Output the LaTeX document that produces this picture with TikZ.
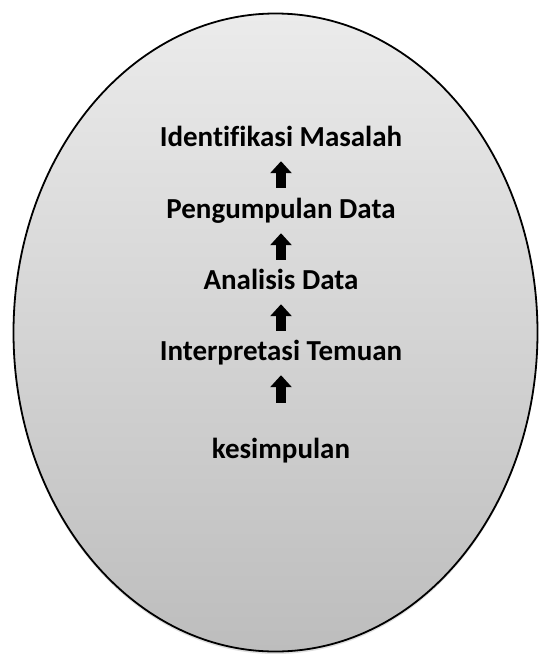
\documentclass[tikz,border=0pt]{standalone}
\usepackage{fontspec}
\setmainfont{Carlito}[Ligatures=NoCommon]
\usetikzlibrary{arrows.meta,shadows}
\definecolor{topgray}{HTML}{EBEBEB}
\definecolor{botgray}{HTML}{BDBDBD}
\begin{document}
\begin{tikzpicture}[x=1pt,y=-1pt,
  lbl/.style={inner sep=0pt,text height=18pt,text depth=0pt,anchor=base,
    font=\fontsize{29}{34}\selectfont\bfseries},
  blk/.style={line width=10pt,-{Triangle[width=21pt,length=12pt]},black}]
\useasboundingbox (0,0) rectangle (539,654);
\draw[line width=1.8pt,top color=topgray,bottom color=botgray,
  drop shadow={shadow xshift=0pt,shadow yshift=-2.5pt,opacity=0.25}]
  (275.5,332.5) ellipse [x radius=262, y radius=319];
\node[lbl] (id) at (281,146) {Identifikasi Masalah};
\node[lbl] (pd) at (281,218) {Pengumpulan Data};
\node[lbl] (ad) at (281,289) {Analisis Data};
\node[lbl] (it) at (281,360) {Interpretasi Temuan};
\node[lbl] (ks) at (281,458) {kesimpulan};
\draw[blk,shorten <=12pt,shorten >=15pt] (pd.north) -- (id.south);
\draw[blk,shorten <=11pt,shorten >=15pt] (ad.north) -- (pd.south);
\draw[blk,shorten <=11pt,shorten >=15pt] (it.north) -- (ad.south);
\draw[blk,shorten <=37pt,shorten >=15pt] (ks.north) -- (it.south);
\end{tikzpicture}
\end{document}
